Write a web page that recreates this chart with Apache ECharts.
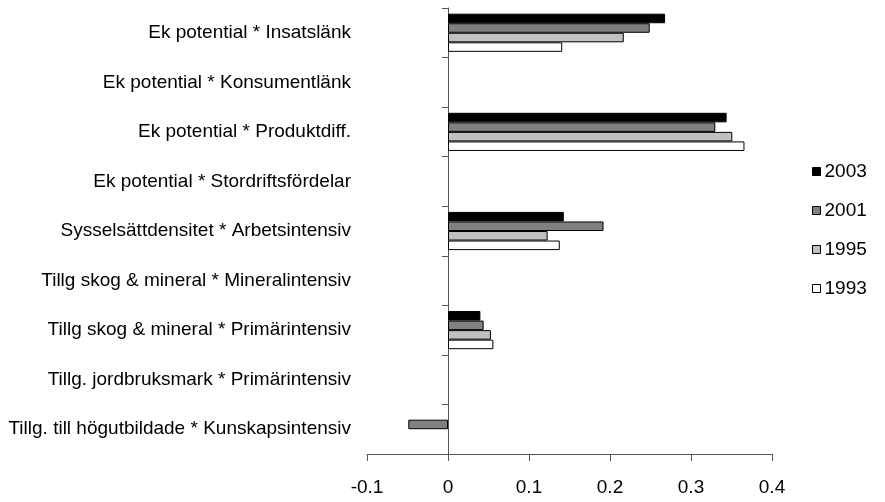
<!DOCTYPE html>
<html>
<head>
<meta charset="utf-8">
<script src="https://cdn.jsdelivr.net/npm/echarts@6/dist/echarts.min.js"></script>
<style>
  html, body { margin: 0; padding: 0; background: #fff; }
  #chart { width: 885px; height: 502px; }
</style>
</head>
<body>
<div id="chart"></div>
<script>
// kategorier, uppifrån och ned
const categories = [
  'Ek potential * Insatslänk',
  'Ek potential * Konsumentlänk',
  'Ek potential * Produktdiff.',
  'Ek potential * Stordriftsfördelar',
  'Sysselsättdensitet * Arbetsintensiv',
  'Tillg skog & mineral * Mineralintensiv',
  'Tillg skog & mineral * Primärintensiv',
  'Tillg. jordbruksmark * Primärintensiv',
  'Tillg. till högutbildade * Kunskapsintensiv'
];
const years = ['2003', '2001', '1995', '1993'];
const v2003 = [0.268, null, 0.344, null, 0.143, null, 0.040, null, null];
const v2001 = [0.249, null, 0.330, null, 0.192, null, 0.044, null, -0.049];
const v1995 = [0.217, null, 0.351, null, 0.123, null, 0.053, null, null];
const v1993 = [0.141, null, 0.366, null, 0.138, null, 0.056, null, null];
const xTicks = ['-0.1', '0', '0.1', '0.2', '0.3', '0.4'];

const values = [v2003, v2001, v1995, v1993];
const colors = ['#000000', '#808080', '#c0c0c0', '#ffffff'];
const font = 'Liberation Sans, Arial, sans-serif';

const chart = echarts.init(document.getElementById('chart'));
const option = {
  animation: false,
  textStyle: { fontFamily: font },
  grid: { left: 367, right: 113, top: 8, bottom: 48, containLabel: false },
  legend: {
    orient: 'vertical',
    left: 812,
    top: 162,
    padding: 0,
    itemWidth: 8,
    itemHeight: 8,
    itemGap: 20,
    icon: 'rect',
    data: years,
    textStyle: { fontSize: 19, color: '#000', fontFamily: font, padding: [0, 0, 0, -1] },
    itemStyle: { borderColor: '#000', borderWidth: 1 }
  },
  xAxis: {
    type: 'value',
    min: -0.1,
    max: 0.4,
    interval: 0.1,
    splitLine: { show: false },
    axisLine: { show: true, onZero: false, lineStyle: { color: '#555', width: 1 } },
    axisTick: { show: true, length: 7, lineStyle: { color: '#555' } },
    axisLabel: {
      margin: 24,
      fontSize: 19,
      color: '#000',
      fontFamily: font,
      formatter: v => xTicks.find(t => Math.abs(parseFloat(t) - v) < 1e-9) || ''
    }
  },
  yAxis: [
    {
      // etiketter till vänster
      type: 'category',
      data: categories,
      inverse: true,
      position: 'left',
      axisLine: { show: false, onZero: false },
      axisTick: { show: false },
      axisLabel: { margin: 16, fontSize: 19, color: '#000', fontFamily: font }
    },
    {
      // axellinjen vid noll
      type: 'category',
      data: categories,
      inverse: true,
      position: 'left',
      axisLine: { show: true, onZero: true, lineStyle: { color: '#555', width: 1 } },
      axisTick: { show: true, length: 6, lineStyle: { color: '#555' } },
      axisLabel: { show: false }
    }
  ],
  series: years.map((y, i) => ({
    name: y,
    type: 'bar',
    yAxisIndex: 0,
    data: values[i],
    barGap: '0%',
    barCategoryGap: '23%',
    itemStyle: { color: colors[i], borderColor: '#000', borderWidth: 1 }
  }))
};
chart.setOption(option);
</script>
</body>
</html>
